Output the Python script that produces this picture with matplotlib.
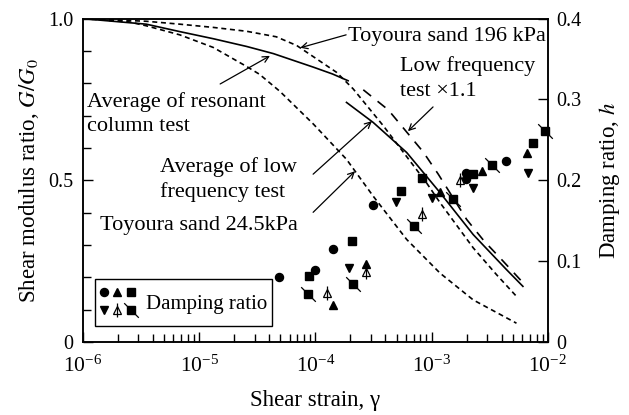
import matplotlib
matplotlib.use('Agg')
import matplotlib.pyplot as plt
from matplotlib.legend_handler import HandlerBase
from matplotlib.lines import Line2D
from matplotlib.ticker import LogLocator, MultipleLocator, FuncFormatter

plt.rcParams['font.family'] = ['Liberation Serif', 'DejaVu Serif']
plt.rcParams['mathtext.fontset'] = 'stix'
plt.rcParams['font.size'] = 14.5

# G/G0 curves (strain, ratio)
rc_strain = [1e-6, 3.5e-6, 6.8e-6, 1.32e-5, 2.56e-5, 4.34e-5, 9.6e-5, 1.4e-4, 1.91e-4]
rc_G = [1.0, 0.983, 0.960, 0.938, 0.914, 0.892, 0.850, 0.829, 0.808]

lf_strain = [1.85e-4, 3.14e-4, 6.1e-4, 1.18e-3, 2.28e-3, 4.4e-3, 6.1e-3]
lf_G = [0.741, 0.679, 0.586, 0.462, 0.332, 0.224, 0.172]

lf11_strain = [2.58e-4, 4.23e-4, 8.45e-4, 1.14e-3, 2.0e-3, 2.83e-3, 4.07e-3, 6.34e-3]
lf11_G = [0.780, 0.718, 0.588, 0.519, 0.379, 0.312, 0.252, 0.177]

t196_strain = [1e-6, 3.5e-6, 6.8e-6, 1.32e-5, 2.56e-5, 4.6e-5, 6.9e-5, 1.52e-4, 2.11e-4,
               3.83e-4, 9.0e-4, 1.18e-3, 2.28e-3, 3.62e-3, 5.37e-3]
t196_G = [1.0, 0.992, 0.983, 0.973, 0.961, 0.944, 0.917, 0.834, 0.783,
          0.669, 0.493, 0.431, 0.291, 0.208, 0.141]

t245_strain = [1e-6, 2.5e-6, 3.5e-6, 6.8e-6, 1.32e-5, 2.56e-5, 3.3e-5, 4.95e-5, 9.6e-5,
               1.85e-4, 3.14e-4, 6.1e-4, 1.18e-3, 2.28e-3, 5.37e-3]
t245_G = [1.0, 0.990, 0.978, 0.950, 0.911, 0.852, 0.828, 0.775, 0.674,
          0.565, 0.451, 0.317, 0.213, 0.130, 0.058]

# damping ratio points, one list per marker type
circ_x = [4.85e-5, 1.0e-4, 1.41e-4, 3.1e-4, 1.98e-3, 1.98e-3, 4.36e-3]
circ_h = [0.080, 0.0894, 0.1155, 0.170, 0.2096, 0.202, 0.224]
tup_x = [1.41e-4, 2.72e-4, 1.18e-3, 2.7e-3, 6.56e-3]
tup_h = [0.046, 0.097, 0.1855, 0.2115, 0.234]
sq_x = [8.85e-5, 2.05e-4, 5.44e-4, 8.2e-4, 2.26e-3, 7.5e-3]
sq_h = [0.082, 0.1246, 0.187, 0.203, 0.2075, 0.2456]
tdn_x = [1.95e-4, 4.9e-4, 1.0e-3, 2.28e-3, 6.8e-3]
tdn_h = [0.0915, 0.173, 0.178, 0.191, 0.2095]
stem_x = [1.25e-4, 2.72e-4, 8.2e-4, 1.75e-3]
stem_h = [0.0605, 0.087, 0.158, 0.200]
slash_x = [8.67e-5, 2.1e-4, 7.1e-4, 1.53e-3, 3.28e-3, 9.4e-3]
slash_h = [0.0596, 0.072, 0.144, 0.177, 0.2186, 0.261]

key_styles = [
    [dict(marker='o', ms=5.8, mfc='k', mec='k')],
    [dict(marker='^', ms=6.2, mfc='k', mec='k')],
    [dict(marker='s', ms=5.3, mfc='k', mec='k')],
    [dict(marker='v', ms=6.2, mfc='k', mec='k')],
    [dict(marker='^', ms=6.2, mfc='white', mec='k', mew=0.9),
     dict(marker='|', ms=10.5, mec='k', mew=0.9)],
    [dict(marker='s', ms=5.3, mfc='k', mec='k'),
     dict(marker=[(-1, 1), (1, -1)], ms=10.5, mec='k', mew=0.9)],
]
series = [(circ_x, circ_h), (tup_x, tup_h), (sq_x, sq_h),
          (tdn_x, tdn_h), (stem_x, stem_h), (slash_x, slash_h)]


class DampingKey:
    pass


class DampingKeyHandler(HandlerBase):
    # two rows of three markers in one legend entry
    def create_artists(self, legend, orig_handle, xdescent, ydescent,
                       width, height, fontsize, trans):
        arts = []
        for i, layers in enumerate(key_styles):
            cx = -xdescent + width * (0.1 + 0.4 * (i % 3))
            cy = -ydescent + height * (0.78 if i < 3 else 0.28)
            for st in layers:
                arts.append(Line2D([cx], [cy], linestyle='none', transform=trans, **st))
        return arts


fig = plt.figure(figsize=(6.29, 4.15), dpi=100)
ax = fig.add_axes([0.132, 0.176, 0.739, 0.779])
ax2 = ax.twinx()

lw = 1.2
ax.plot(rc_strain, rc_G, color='k', lw=lw)
ax.plot(lf_strain, lf_G, color='k', lw=lw)
ax.plot(lf11_strain, lf11_G, color='k', lw=lw, linestyle=(0, (6, 5)))
ax.plot(t196_strain, t196_G, color='k', lw=lw, linestyle=(0, (3, 2.2)))
ax.plot(t245_strain, t245_G, color='k', lw=lw, linestyle=(0, (3, 2.2)))

for (xs, hs), layers in zip(series, key_styles):
    for st in layers:
        ax2.plot(xs, hs, linestyle='none', clip_on=False, zorder=3, **st)

ax.set_xscale('log')
ax.set_xlim(1e-6, 1e-2)
ax.set_ylim(0, 1.0)
ax2.set_ylim(0, 0.4)

ax.xaxis.set_major_locator(LogLocator(base=10, numticks=10))
ax.xaxis.set_minor_locator(LogLocator(base=10, subs=range(2, 10), numticks=20))
ax.yaxis.set_major_locator(MultipleLocator(0.5))
ax.yaxis.set_minor_locator(MultipleLocator(0.1))
ax.yaxis.set_major_formatter(FuncFormatter(lambda v, p: '0' if v == 0 else f'{v:.1f}'))
ax2.yaxis.set_major_locator(MultipleLocator(0.1))
ax2.yaxis.set_major_formatter(FuncFormatter(lambda v, p: '0' if v == 0 else f'{v:.1f}'))

ax.tick_params(axis='both', which='both', direction='in', top=False, right=False, width=1.0)
ax.tick_params(axis='both', which='major', length=7)
ax.tick_params(axis='both', which='minor', length=6)
ax.tick_params(axis='x', which='major', pad=10, labelsize=15.5)
ax.tick_params(axis='y', pad=7)
ax2.tick_params(axis='y', direction='in', length=7, width=1.0, pad=6)
for a in (ax, ax2):
    for sp in a.spines.values():
        sp.set_linewidth(1.1)

ax.set_xlabel('Shear strain, γ', labelpad=9, fontsize=16.5)
ax.set_ylabel('Shear modulus ratio, $G/G_0$', labelpad=5, fontsize=16.5)
ax2.set_ylabel('Damping ratio, $h$', labelpad=11, fontsize=16.5)

# annotations
fs = 16
arrow = dict(arrowstyle='->', color='k', lw=0.9, mutation_scale=11, shrinkA=0, shrinkB=0)
ax.text(0.570, 0.944, 'Toyoura sand 196 kPa', transform=ax.transAxes,
        ha='left', va='center', fontsize=fs)
ax.annotate('', xy=(7.4e-5, 0.91), xycoords='data', xytext=(0.566, 0.950),
            textcoords='axes fraction', arrowprops=arrow)

ax.text(0.682, 0.815, 'Low frequency\ntest ×1.1', transform=ax.transAxes,
        ha='left', va='center', linespacing=1.45, fontsize=fs)
ax.annotate('', xy=(6.25e-4, 0.652), xycoords='data', xytext=(0.753, 0.727),
            textcoords='axes fraction', arrowprops=arrow)

ax.text(0.009, 0.705, 'Average of resonant\ncolumn test', transform=ax.transAxes,
        ha='left', va='center', linespacing=1.35, fontsize=fs)
ax.annotate('', xy=(4.06e-5, 0.885), xycoords='data', xytext=(0.295, 0.798),
            textcoords='axes fraction', arrowprops=arrow)

ax.text(0.166, 0.503, 'Average of low\nfrequency test', transform=ax.transAxes,
        ha='left', va='center', linespacing=1.35, fontsize=fs)
ax.annotate('', xy=(3.06e-4, 0.683), xycoords='data', xytext=(0.495, 0.519),
            textcoords='axes fraction', arrowprops=arrow)

ax.text(0.037, 0.360, 'Toyoura sand 24.5kPa', transform=ax.transAxes,
        ha='left', va='center', fontsize=fs)
ax.annotate('', xy=(2.19e-4, 0.528), xycoords='data', xytext=(0.495, 0.401),
            textcoords='axes fraction', arrowprops=arrow)

leg = ax2.legend([DampingKey()], ['Damping ratio'], handler_map={DampingKey: DampingKeyHandler()},
                 loc='lower left', bbox_to_anchor=(0.026, 0.05), borderaxespad=0,
                 fancybox=False, edgecolor='k', framealpha=1, handlelength=1.6,
                 handleheight=2.25, handletextpad=0.55, borderpad=0.27, fontsize=15)
leg.get_frame().set_linewidth(1.0)

fig.savefig('out.png', dpi=100)
